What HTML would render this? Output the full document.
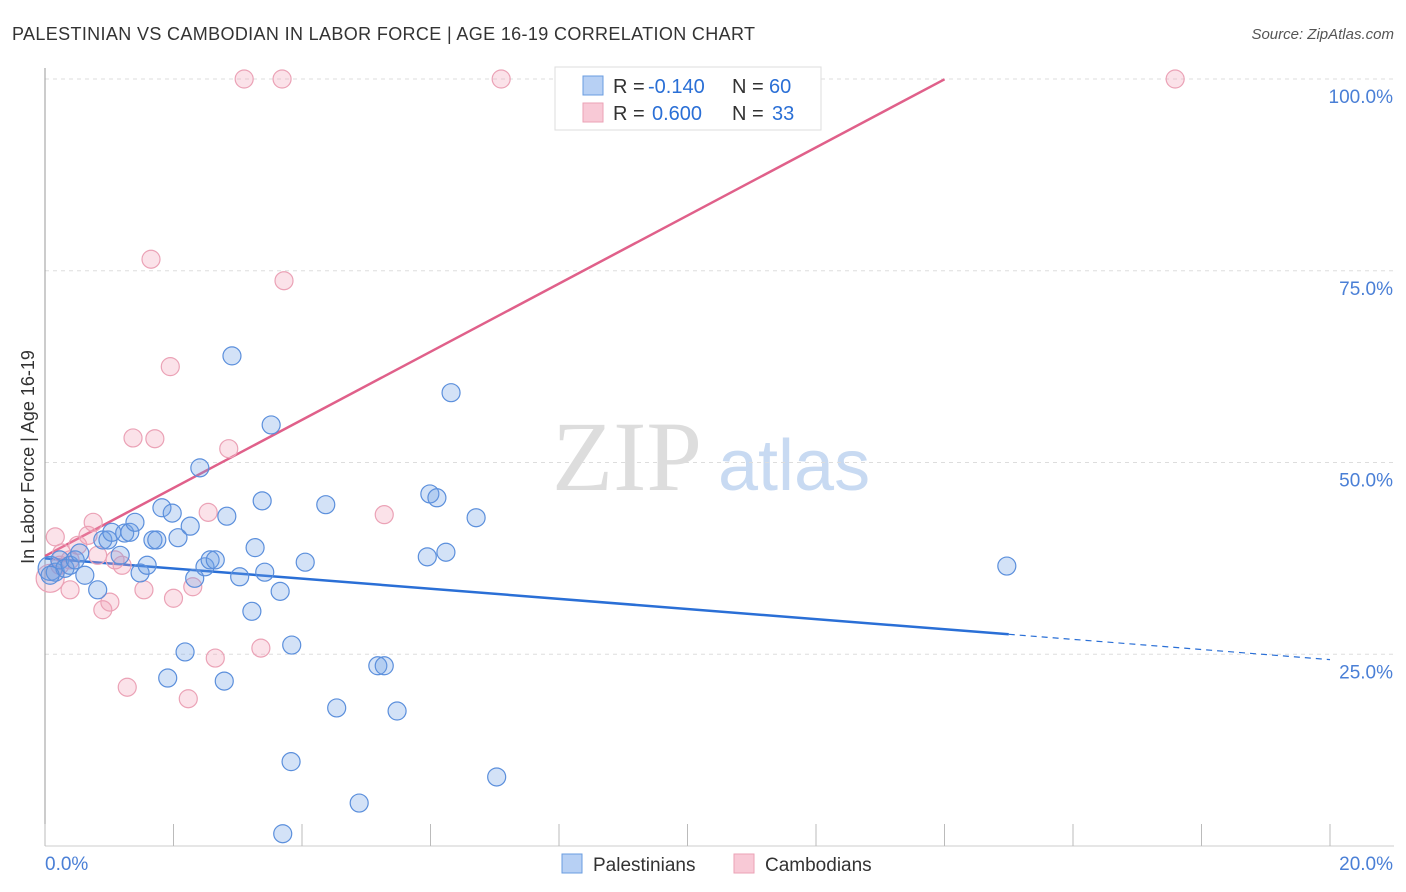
<!DOCTYPE html>
<html><head><meta charset="utf-8"><style>
body{margin:0;background:#fff;font-family:"Liberation Sans",sans-serif;}
svg{display:block}
</style></head><body>
<svg width="1406" height="892">
<text x="12" y="40" font-size="18" fill="#333" textLength="743">PALESTINIAN VS CAMBODIAN IN LABOR FORCE | AGE 16-19 CORRELATION CHART</text>
<text x="1394" y="39" font-size="15" fill="#555" font-style="italic" text-anchor="end">Source: ZipAtlas.com</text>
<text x="0" y="0" transform="translate(34,457) rotate(-90)" font-size="18" fill="#333" text-anchor="middle">In Labor Force | Age 16-19</text>
<g><text x="552" y="490" font-size="100" font-family="Liberation Serif,serif" fill="#ddd">ZIP</text><text x="718" y="490" font-size="72" fill="#c8daf2">atlas</text></g>
<g id="grid"></g><g id="axes"></g><g id="lines"></g><g id="pts"></g>
<g>
<rect x="555" y="67" width="266" height="63" fill="#fff" stroke="#ddd"/>
<rect x="583" y="76" width="20" height="19" fill="#b7d0f4" stroke="#6a9ce0"/>
<rect x="583" y="103" width="20" height="19" fill="#f8c9d6" stroke="#eba2b6"/>
<text x="613" y="93" font-size="20" fill="#333">R =</text><text x="648" y="93" font-size="20" fill="#2a6fd6">-0.140</text>
<text x="732" y="93" font-size="20" fill="#333">N =</text><text x="769" y="93" font-size="20" fill="#2a6fd6">60</text>
<text x="613" y="120" font-size="20" fill="#333">R =</text><text x="652" y="120" font-size="20" fill="#2a6fd6">0.600</text>
<text x="732" y="120" font-size="20" fill="#333">N =</text><text x="772" y="120" font-size="20" fill="#2a6fd6">33</text>
</g>
<g>
<rect x="562" y="854" width="20" height="19" fill="#b7d0f4" stroke="#6a9ce0"/>
<text x="593" y="871" font-size="19" fill="#333">Palestinians</text>
<rect x="734" y="854" width="20" height="19" fill="#f8c9d6" stroke="#eba2b6"/>
<text x="765" y="871" font-size="19" fill="#333">Cambodians</text>
</g>
</svg>
<script>
const blueX=[0.08,0.16,0.23,0.31,0.39,0.47,0.54,0.62,0.82,0.90,0.98,1.04,1.17,1.24,1.32,1.40,1.48,1.59,1.68,1.74,1.82,1.98,2.07,1.91,2.18,2.26,2.33,2.41,2.49,2.57,2.65,2.79,2.83,2.91,3.03,3.22,3.27,3.38,3.42,3.52,3.66,3.84,3.83,3.70,4.05,4.37,4.54,4.89,5.18,5.28,5.48,5.95,5.99,6.10,6.24,6.32,6.71,7.03,14.97,0.08];
const blueY=[36.2,35.7,37.3,36.2,36.6,37.3,38.2,35.3,33.4,39.9,39.9,40.9,37.9,40.8,40.9,42.2,35.6,36.6,39.9,39.9,44.1,43.4,40.2,21.9,25.3,41.7,34.9,49.3,36.4,37.3,37.3,21.5,43.0,63.9,35.1,30.6,38.9,45.0,35.7,54.9,33.2,26.2,11.0,1.6,37.0,44.5,18.0,5.6,23.5,23.5,17.6,37.7,45.9,45.4,38.3,59.1,42.8,9.0,36.5,35.3];
const pinkX=[0.08,0.16,0.26,0.39,0.51,0.67,0.75,0.82,0.90,1.01,1.09,1.20,1.28,1.37,1.54,1.65,1.71,1.95,2.00,2.23,2.30,2.54,2.65,2.86,3.10,3.36,3.69,3.72,5.28,7.10,17.59,0.39,0.23];
const pinkY=[34.9,40.3,38.2,33.4,39.2,40.5,42.2,37.9,30.8,31.8,37.3,36.6,20.7,53.2,33.4,76.5,53.1,62.5,32.3,19.2,33.8,43.5,24.5,51.8,100,25.8,100,73.7,43.2,100,100,37.3,36.6];
const yTicks=[25,50,75,100];
const blueTrend=[37.5,24.3], blueSolidEnd=15.0;
const pinkTrend=[37.8,4.44], pinkEnd=14.0;
const X=v=>45+v/20*1285, Y=v=>846-v/100*767;
const NS="http://www.w3.org/2000/svg";
function mk(p,t,a){const e=document.createElementNS(NS,t);for(const k in a)e.setAttribute(k,a[k]);document.getElementById(p).appendChild(e);return e;}
yTicks.forEach(t=>{
 const l=mk('grid','line',{x1:45,x2:1394,y1:Y(t),y2:Y(t),stroke:'#ddd','stroke-dasharray':'4,4'});
 
 
 const tx=mk('grid','text',{x:1393,y:Y(t)+24,'font-size':19,fill:'#4a7fd6','text-anchor':'end'});tx.textContent=t.toFixed(1)+'%';
 
 
});
mk('axes','line',{x1:45,x2:45,y1:68,y2:846,stroke:'#999'});
mk('axes','line',{x1:45,x2:1394,y1:846,y2:846,stroke:'#ccc'});
for(let i=0;i<=10;i++){const t=mk('axes','line',{x1:X(i*2),x2:X(i*2),y1:824,y2:846,stroke:'#bbb'});
 
 }
[['0.0%',45,'start'],['20.0%',1393,'end']].forEach(a=>{const t=mk('axes','text',{x:a[1],y:870,'font-size':19,fill:'#4a7fd6','text-anchor':a[2]});t.textContent=a[0];
 
 });
const by=x=>blueTrend[0]+(blueTrend[1]-blueTrend[0])*x/20;
let l1=mk('lines','line',{x1:X(0),y1:Y(by(0)),x2:X(blueSolidEnd),y2:Y(by(blueSolidEnd)),stroke:'#2a6fd6','stroke-width':2.5});


let l2=mk('lines','line',{x1:X(blueSolidEnd),y1:Y(by(blueSolidEnd)),x2:X(20),y2:Y(by(20)),stroke:'#2a6fd6','stroke-width':1.2,'stroke-dasharray':'6,5'});


let l3=mk('lines','line',{x1:X(0),y1:Y(pinkTrend[0]),x2:X(pinkEnd),y2:Y(pinkTrend[0]+pinkTrend[1]*pinkEnd),stroke:'#e0608a','stroke-width':2.5});


pinkX.forEach((x,i)=>{const c=mk('pts','circle',{cx:X(x),cy:Y(pinkY[i]),r:i==0?14:9,fill:'rgba(242,160,182,0.3)',stroke:'#eba2b6','stroke-width':1.2});
 
 });
blueX.forEach((x,i)=>{const c=mk('pts','circle',{cx:X(x),cy:Y(blueY[i]),r:i==0?12:9,fill:'rgba(110,160,230,0.3)',stroke:'#5b8fdc','stroke-width':1.2});
 
 });
</script>
</body></html>
